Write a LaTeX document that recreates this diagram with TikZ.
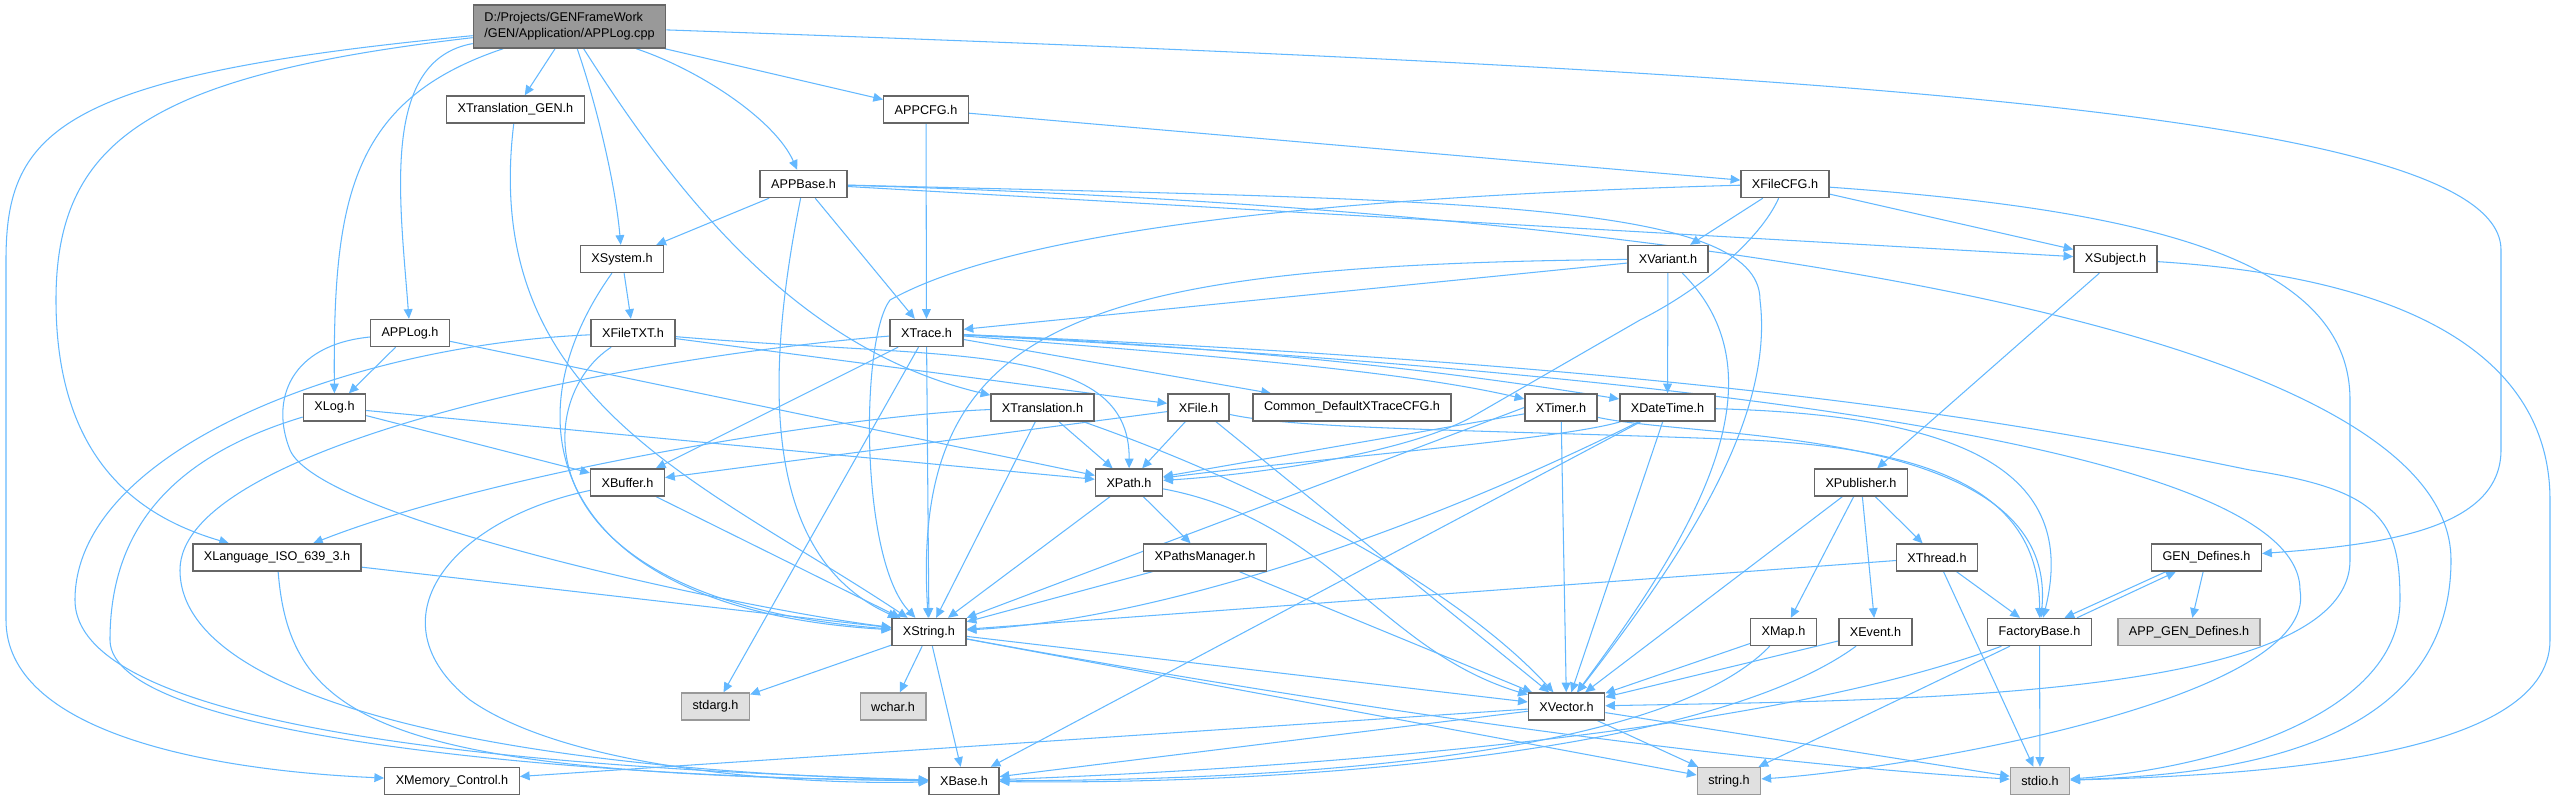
\documentclass[tikz,border=0pt]{standalone}
\usepackage{fontspec}
\setmainfont{Liberation Sans}
\usepackage{xcolor}
\usepackage{tikz}
\usetikzlibrary{arrows.meta, backgrounds}
\definecolor{edgeblue}{HTML}{63B8FF}
\definecolor{boxline}{HTML}{666666}
\definecolor{rootfill}{HTML}{999999}
\definecolor{sysfill}{HTML}{E0E0E0}
\definecolor{sysline}{HTML}{999999}

\begin{document}
\begin{tikzpicture}[x=0.02cm, y=-0.02cm,
  hdr/.style={draw=boxline, fill=white, line width=0.8pt, font=\fontsize{7.2}{9.1}\selectfont,
    inner xsep=0.22cm, inner ysep=0pt, minimum height=0.54cm},
  syshdr/.style={hdr, draw=sysline, fill=sysfill},
  roothdr/.style={hdr, fill=rootfill, align=left, minimum height=0.86cm},
  dep/.style={draw=edgeblue, line width=0.6pt, -{Triangle[length=5.5pt, width=5pt]}}]
  \useasboundingbox (0,0) rectangle (2557,800);
  \node[roothdr] (root) at (569.5,26.5) {D:/Projects/GENFrameWork\\/GEN/Application/APPLog.cpp};
  \node[hdr] (xtransgen) at (515.5,109.5) {XTranslation\_GEN.h};
  \node[hdr] (appcfg) at (926,109.5) {APPCFG.h};
  \node[hdr] (appbase) at (803.5,184) {APPBase.h};
  \node[hdr] (xfilecfg) at (1785,184) {XFileCFG.h};
  \node[hdr] (xsystem) at (622,259) {XSystem.h};
  \node[hdr] (xvariant) at (1668,259) {XVariant.h};
  \node[hdr] (xsubject) at (2115.5,259) {XSubject.h};
  \node[hdr] (applogh) at (410,333) {APPLog.h};
  \node[hdr] (xfiletxt) at (633,333) {XFileTXT.h};
  \node[hdr] (xtrace) at (926.5,333) {XTrace.h};
  \node[hdr] (xlog) at (334.5,407.5) {XLog.h};
  \node[hdr] (xtranslation) at (1042.5,407.5) {XTranslation.h};
  \node[hdr] (xfile) at (1198.5,407.5) {XFile.h};
  \node[hdr] (tracecfg) at (1352,407.5) {Common\_DefaultXTraceCFG.h};
  \node[hdr] (xtimer) at (1561,407.5) {XTimer.h};
  \node[hdr] (xdatetime) at (1667.5,407.5) {XDateTime.h};
  \node[hdr] (xbuffer) at (627.5,482.5) {XBuffer.h};
  \node[hdr] (xpath) at (1129,482.5) {XPath.h};
  \node[hdr] (xpublisher) at (1861,482.5) {XPublisher.h};
  \node[hdr] (xlanguage) at (277,557.5) {XLanguage\_ISO\_639\_3.h};
  \node[hdr] (xpathsmgr) at (1205,557.5) {XPathsManager.h};
  \node[hdr] (xthread) at (1937,557.5) {XThread.h};
  \node[hdr] (gendefs) at (2206.5,557.5) {GEN\_Defines.h};
  \node[hdr] (xstring) at (929,632) {XString.h};
  \node[hdr] (xmap) at (1783.5,632) {XMap.h};
  \node[hdr] (xevent) at (1875.5,632) {XEvent.h};
  \node[hdr] (factory) at (2039.5,632) {FactoryBase.h};
  \node[syshdr] (appgendefs) at (2189,632) {APP\_GEN\_Defines.h};
  \node[syshdr] (stdarg) at (715.5,706.5) {stdarg.h};
  \node[syshdr] (wchar) at (893,706.5) {wchar.h};
  \node[hdr] (xvector) at (1566.5,706.5) {XVector.h};
  \node[hdr] (xmemory) at (452,781) {XMemory\_Control.h};
  \node[hdr] (xbase) at (964,781) {XBase.h};
  \node[syshdr] (stringh) at (1729,781) {string.h};
  \node[syshdr] (stdio) at (2040,781) {stdio.h};

  \begin{pgfonlayer}{background}
  \draw[dep] (root) -- (xtransgen);
  \draw[dep] (root) -- (appcfg);
  \draw[dep] (root) .. controls (700,70) and (775,120) .. (appbase);
  \draw[dep] (root) .. controls (595,100) and (615,180) .. (xsystem);
  \draw[dep] (root) .. controls (680,200) and (800,350) .. (xtranslation);
  \draw[dep] (root) .. controls (380,60) and (400,200) .. (applogh);
  \draw[dep] (root) .. controls (350,100) and (333,200) .. (xlog);
  \draw[dep] (root) .. controls (150,75) and (56,140) .. (56,300) .. controls (56,470) and (150,520) .. (xlanguage);
  \draw[dep] (root) .. controls (60,75) and (6,130) .. (6,260) -- (6,620) .. controls (6,730) and (200,770) .. (xmemory);
  \draw[dep] (root) .. controls (1800,70) and (2501,110) .. (2501,250) -- (2501,450) .. controls (2501,530) and (2380,545) .. (gendefs);

  \draw[dep] (xtransgen) .. controls (480,400) and (700,480) .. (xstring);
  \draw[dep] (appcfg) -- (xtrace);
  \draw[dep] (appcfg) -- (xfilecfg);
  \draw[dep] (appbase) -- (xsystem);
  \draw[dep] (appbase) -- (xtrace);
  \draw[dep] (appbase) .. controls (760,400) and (770,560) .. (xstring);
  \draw[dep] (appbase) -- (xsubject);
  \draw[dep] (appbase) .. controls (1450,200) and (1760,200) .. (1760,300) .. controls (1775,420) and (1680,560) .. (xvector);
  \draw[dep] (appbase) .. controls (1700,210) and (2451,330) .. (2451,560) .. controls (2451,760) and (2200,775) .. (stdio);

  \draw[dep] (xfilecfg) -- (xvariant);
  \draw[dep] (xfilecfg) -- (xsubject);
  \draw[dep] (xfilecfg) .. controls (1200,200) and (980,250) .. (890,300) .. controls (860,340) and (860,560) .. (xstring);
  \draw[dep] (xfilecfg) .. controls (1760,240) and (1700,290) .. (1640,320) -- (1470,418) .. controls (1400,455) and (1250,475) .. (xpath);
  \draw[dep] (xfilecfg) .. controls (2150,210) and (2350,260) .. (2350,400) -- (2350,560) .. controls (2350,700) and (1900,700) .. (xvector);

  \draw[dep] (xsystem) -- (xfiletxt);
  \draw[dep] (xsystem) .. controls (500,430) and (560,610) .. (xstring);
  \draw[dep] (xvariant) -- (xtrace);
  \draw[dep] (xvariant) .. controls (1080,265) and (910,320) .. (xstring);
  \draw[dep] (xvariant) -- (xdatetime);
  \draw[dep] (xvariant) .. controls (1790,380) and (1690,540) .. (xvector);
  \draw[dep] (xsubject) -- (xpublisher);
  \draw[dep] (xsubject) .. controls (2450,280) and (2550,380) .. (2550,500) -- (2550,640) .. controls (2550,760) and (2250,775) .. (stdio);

  \draw[dep] (applogh) -- (xlog);
  \draw[dep] (applogh) -- (xpath);
  \draw[dep] (applogh) .. controls (290,345) and (270,400) .. (290,450) .. controls (320,520) and (750,610) .. (xstring);
  \draw[dep] (xfiletxt) -- (xfile);
  \draw[dep] (xfiletxt) .. controls (950,360) and (1130,340) .. (xpath);
  \draw[dep] (xfiletxt) .. controls (530,400) and (520,600) .. (xstring);
  \draw[dep] (xfiletxt) .. controls (350,345) and (75,450) .. (75,600) .. controls (75,740) and (600,770) .. (xbase);
  \draw[dep] (xtrace) -- (xbuffer);
  \draw[dep] (xtrace) -- (xstring);
  \draw[dep] (xtrace) -- (stdarg);
  \draw[dep] (xtrace) .. controls (600,360) and (180,450) .. (180,570) .. controls (180,700) and (500,770) .. (xbase);
  \draw[dep] (xtrace) .. controls (1200,355) and (1400,370) .. (xtimer);
  \draw[dep] (xtrace) .. controls (1300,350) and (1500,380) .. (xdatetime.170);
  \draw[dep] (xtrace) -- (tracecfg);
  \draw[dep] (xtrace) .. controls (1800,370) and (2100,440) .. (2250,470) .. controls (2380,490) and (2400,520) .. (2400,600) .. controls (2400,720) and (2200,770) .. (stdio);
  \draw[dep] (xtrace) .. controls (1800,380) and (2300,460) .. (2300,590) .. controls (2320,700) and (1900,770) .. (stringh);

  \draw[dep] (xlog) -- (xbuffer);
  \draw[dep] (xlog) -- (xpath);
  \draw[dep] (xlog) .. controls (160,460) and (110,540) .. (110,640) .. controls (110,740) and (600,778) .. (xbase);
  \draw[dep] (xtranslation) .. controls (850,415) and (500,470) .. (xlanguage);
  \draw[dep] (xtranslation) -- (xpath);
  \draw[dep] (xtranslation) -- (xstring);
  \draw[dep] (xtranslation) .. controls (1250,480) and (1450,580) .. (xvector);
  \draw[dep] (xfile) -- (xpath);
  \draw[dep] (xfile) -- (xbuffer);
  \draw[dep] (xfile) -- (xvector);
  \draw[dep] (xfile) .. controls (1300,430) and (1500,430) .. (1750,440) .. controls (1950,450) and (2040,500) .. (factory);
  \draw[dep] (xtimer) -- (xpath);
  \draw[dep] (xtimer.west) -- (xstring);
  \draw[dep] (xtimer) -- (xvector);
  \draw[dep] (xtimer.345) .. controls (1700,440) and (2060,425) .. (factory);
  \draw[dep] (xdatetime) .. controls (1560,440) and (1300,460) .. (xpath);
  \draw[dep] (xdatetime) .. controls (1400,540) and (1150,620) .. (xstring);
  \draw[dep] (xdatetime) -- (xbase);
  \draw[dep] (xdatetime) -- (xvector);
  \draw[dep] (xdatetime) .. controls (1960,415) and (2080,470) .. (factory);

  \draw[dep] (xbuffer) -- (xstring);
  \draw[dep] (xbuffer) .. controls (450,520) and (370,620) .. (470,700) .. controls (570,770) and (800,785) .. (xbase);
  \draw[dep] (xpath) -- (xpathsmgr);
  \draw[dep] (xpath) -- (xstring);
  \draw[dep] (xpath) .. controls (1330,520) and (1380,650) .. (xvector);
  \draw[dep] (xpathsmgr) -- (xstring);
  \draw[dep] (xpathsmgr) -- (xvector);
  \draw[dep] (xlanguage) -- (xstring);
  \draw[dep] (xlanguage) .. controls (290,720) and (380,775) .. (xbase);

  \draw[dep] (xpublisher) -- (xmap);
  \draw[dep] (xpublisher) -- (xevent);
  \draw[dep] (xpublisher) -- (xthread);
  \draw[dep] (xpublisher) -- (xvector);
  \draw[dep] (xthread) -- (xstring);
  \draw[dep] (xthread) -- (factory);
  \draw[dep] (xthread) -- (stdio);
  \draw[dep] ([xshift=0.3cm]gendefs.south west) -- ([xshift=0.5cm]factory.north);
  \draw[dep] ([xshift=0.75cm]factory.north) -- ([xshift=0.5cm]gendefs.south west);
  \draw[dep] (gendefs) -- (appgendefs);
  \draw[dep] (factory) .. controls (1750,740) and (1250,770) .. (xbase);
  \draw[dep] (factory) -- (stringh);
  \draw[dep] (factory) -- (stdio);

  \draw[dep] (xmap) -- (xvector);
  \draw[dep] (xmap) .. controls (1650,770) and (1200,780) .. (xbase);
  \draw[dep] (xevent) -- (xvector);
  \draw[dep] (xevent) .. controls (1700,760) and (1250,785) .. (xbase);
  \draw[dep] (xstring) -- (stdarg);
  \draw[dep] (xstring) -- (wchar);
  \draw[dep] (xstring) -- (xbase);
  \draw[dep] (xstring) -- (xvector);
  \draw[dep] (xstring) -- (stringh);
  \draw[dep] (xstring) .. controls (1300,700) and (1700,760) .. (stdio);
  \draw[dep] (xvector) -- (xmemory);
  \draw[dep] (xvector) -- (xbase);
  \draw[dep] (xvector) -- (stringh);
  \draw[dep] (xvector) -- (stdio);
  \end{pgfonlayer}
\end{tikzpicture}
\end{document}
